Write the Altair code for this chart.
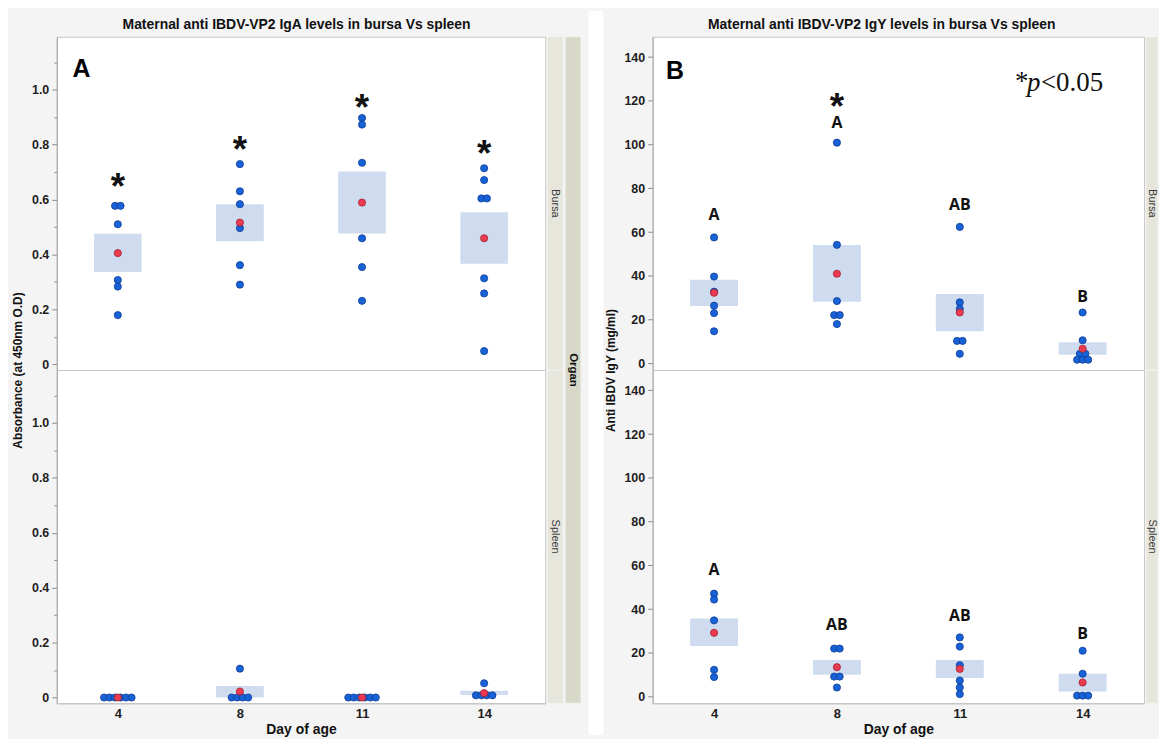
import altair as alt
import pandas as pd

# ---------------- data ----------------
days = ["4", "8", "11", "14"]

# Panel A : IgA absorbance, individual birds
iga_bursa = [
    [0.577, 0.577, 0.510, 0.307, 0.283, 0.179],
    [0.729, 0.630, 0.583, 0.496, 0.361, 0.290],
    [0.897, 0.873, 0.734, 0.459, 0.354, 0.231],
    [0.714, 0.671, 0.604, 0.604, 0.313, 0.258, 0.048],
]
iga_spleen = [
    [0.0, 0.0, 0.0, 0.0, 0.0, 0.0],
    [0.105, 0.0, 0.0, 0.0, 0.0],
    [0.0, 0.0, 0.0, 0.0, 0.0, 0.0],
    [0.052, 0.008, 0.008, 0.008, 0.008],
]
iga_bursa_mean = [0.405, 0.516, 0.589, 0.459]
iga_bursa_lo = [0.336, 0.448, 0.476, 0.366]
iga_bursa_hi = [0.475, 0.583, 0.702, 0.554]
iga_spleen_mean = [0.0, 0.022, 0.0, 0.016]
iga_spleen_lo = [0.0, 0.0, 0.0, 0.009]
iga_spleen_hi = [0.0, 0.042, 0.0, 0.025]
iga_star_y = [0.674, 0.808, 0.961, 0.795]

# Panel B : IgY (mg/ml), individual birds
igy_bursa = [
    [57.6, 39.7, 32.8, 26.4, 23.0, 14.7],
    [100.9, 54.2, 28.5, 22.1, 22.1, 18.0],
    [62.4, 27.9, 25.0, 10.3, 10.3, 4.4],
    [23.3, 10.6, 4.4, 4.4, 1.7, 1.7, 1.7],
]
igy_spleen = [
    [47.1, 44.4, 34.9, 12.3, 9.0],
    [22.0, 22.0, 9.2, 9.2, 4.2],
    [27.1, 22.9, 14.4, 7.4, 4.2, 1.2],
    [21.0, 10.5, 0.5, 0.5, 0.5],
]
igy_bursa_mean = [32.3, 41.0, 23.3, 6.7]
igy_bursa_lo = [26.2, 28.2, 14.7, 4.0]
igy_bursa_hi = [38.2, 54.1, 31.7, 9.7]
igy_spleen_mean = [29.2, 13.5, 12.7, 6.5]
igy_spleen_lo = [23.2, 10.0, 8.5, 2.4]
igy_spleen_hi = [35.8, 16.8, 16.8, 10.5]
igy_bursa_letters = ["A", "A", "AB", "B"]
igy_bursa_letter_y = [67.9, 109.7, 72.3, 30.5]
igy_spleen_letters = ["A", "AB", "AB", "B"]
igy_spleen_letter_y = [58.0, 32.7, 37.0, 28.5]
igy_star_day = [1]
igy_star_y = [121.0]

iga_ticks = [0.0, 0.1, 0.2, 0.3, 0.4, 0.5, 0.6, 0.7, 0.8, 0.9, 1.0, 1.1]
igy_ticks = [0, 20, 40, 60, 80, 100, 120, 140]

title_a = "Maternal anti IBDV-VP2 IgA levels in bursa Vs spleen"
title_b = "Maternal anti IBDV-VP2 IgY levels in bursa Vs spleen"

# ---------------- style ----------------
NARROW = "Liberation Sans Narrow, Arial Narrow, Liberation Sans, sans-serif"
SANS = "Liberation Sans, Arial, sans-serif"
SERIF = "Liberation Serif, Times New Roman, serif"
BLUE, BLUE_EDGE = "#1762d6", "#0c3b96"
RED, RED_EDGE = "#ec3a50", "#a01f30"
BOX = "#cfdcef"
BG = "#f4f4f4"
DODGE = 0.045
HALF_BOX = 0.195
W_A, W_B, H = 491, 494, 335


def points_frame(groups):
    rows = []
    for i, vals in enumerate(groups):
        counts = {}
        for v in vals:
            counts[v] = counts.get(v, 0) + 1
        seen = {}
        for v in vals:
            k = seen.get(v, 0)
            seen[v] = k + 1
            off = k - (counts[v] - 1) / 2
            rows.append({"pos": i + off * DODGE, "value": v})
    return pd.DataFrame(rows)


def summary_frame(means, lo, hi):
    return pd.DataFrame({"pos": list(range(len(days))), "mean": means, "lo": lo, "hi": hi})


xs = alt.Scale(domain=[-0.5, 3.5], nice=False, zero=False)
x_label_expr = "[" + ",".join("'%s'" % d for d in days) + "][datum.value]"
x_axis_bottom = alt.Axis(values=[0, 1, 2, 3], labelExpr=x_label_expr, title="Day of age",
                         ticks=False, domainColor="#c2c2c2", labelPadding=4, titlePadding=2,
                         labelFont=NARROW, labelFontSize=13, labelFontWeight="bold",
                         labelColor="#1e1e1e",
                         titleFont=NARROW, titleFontSize=14, titleFontWeight="bold",
                         titleColor="#111111")


def y_axis(ticks, label_expr, minor_test, title, title_y, title_pad):
    kw = dict(values=ticks, labelExpr=label_expr, domainColor="#a6a6a6", tickColor="#8c8c8c",
              labelFont=NARROW, labelFontSize=12.5, labelFontWeight="bold", labelColor="#1e1e1e",
              labelPadding=3)
    if minor_test:
        kw["tickSize"] = {"condition": {"test": minor_test, "value": 5}, "value": 3}
    else:
        kw["tickSize"] = 5
    if title:
        kw.update(title=title, titleY=title_y, titleFont=SANS, titleFontSize=12,
                  titleFontWeight="bold", titleColor="#111111", titlePadding=title_pad)
    else:
        kw["title"] = None
    return alt.Axis(**kw)


def row_chart(groups, means, lo, hi, ydomain, yaxis, xaxis, width, texts):
    ys = alt.Scale(domain=ydomain, nice=False, zero=False)
    pts = points_frame(groups)
    summ = summary_frame(means, lo, hi)
    box = alt.Chart(summ).transform_calculate(
        l="datum.pos - %f" % HALF_BOX, r="datum.pos + %f" % HALF_BOX
    ).mark_rect(color=BOX).encode(
        x=alt.X("l:Q", scale=xs, axis=xaxis), x2="r:Q",
        y=alt.Y("lo:Q", scale=ys, axis=yaxis), y2="hi:Q")
    dots = alt.Chart(pts).mark_point(shape="circle", filled=True, fill=BLUE, stroke=BLUE_EDGE,
                                     strokeWidth=0.8, size=52, opacity=1).encode(
        x=alt.X("pos:Q", scale=xs, axis=xaxis),
        y=alt.Y("value:Q", scale=ys, axis=yaxis))
    mean = alt.Chart(summ).mark_point(shape="circle", filled=True, fill=RED, stroke=RED_EDGE,
                                      strokeWidth=0.8, size=52, opacity=1).encode(
        x=alt.X("pos:Q", scale=xs, axis=xaxis),
        y=alt.Y("mean:Q", scale=ys, axis=yaxis))
    layers = [box, dots, mean]
    for df, mk in texts:
        layers.append(alt.Chart(df).mark_text(**mk).encode(
            x=alt.X("pos:Q", scale=xs, axis=xaxis),
            y=alt.Y("ty:Q", scale=ys, axis=yaxis),
            text="label:N"))
    return alt.layer(*layers).properties(width=width, height=H)


def strip(label, w, h, fill, bold):
    base = alt.Chart(pd.DataFrame({"label": [label]}))
    rect = base.mark_rect(fill=fill, stroke="#f2f2ee", strokeWidth=1).encode(
        x=alt.value(0), x2=alt.value(w), y=alt.value(0), y2=alt.value(h))
    txt = base.mark_text(angle=90, font=SANS, fontSize=11.5 if bold else 11,
                         fontWeight="bold" if bold else "normal",
                         color="#111111" if bold else "#3a3a3a", baseline="middle").encode(
        x=alt.value(w / 2), y=alt.value(h / 2), text="label:N")
    return alt.layer(rect, txt).properties(
        width=w, height=h, view=alt.ViewBackground(fill="transparent", stroke="transparent"))


def star_frame(pos, ys):
    return pd.DataFrame({"pos": pos, "ty": ys, "label": ["*"] * len(pos)})


star_mark = dict(font=SANS, fontSize=37, fontWeight="bold", color="#111111", baseline="middle", dy=9)
letter_mark = dict(font="Open Sans, Liberation Sans, sans-serif", fontSize=16, fontWeight="bold",
                   color="#111111", baseline="middle")
panel_mark = dict(font=SANS, fontSize=25, fontWeight="bold", color="#000000", baseline="middle")

# ---------------- panel A ----------------
minor_test = "round(datum.value*10) % 2 == 0"
iga_label_expr = ("round(datum.value*10) % 2 == 0 ? (datum.value == 0 ? '0' : "
                  "format(datum.value, '.1f')) : ''")
dom_a = [-0.021, 1.193]
topA = row_chart(
    iga_bursa, iga_bursa_mean, iga_bursa_lo, iga_bursa_hi, dom_a,
    y_axis(iga_ticks, iga_label_expr, minor_test, "Absorbance (at 450nm O.D)", H, 7),
    None, W_A,
    [(star_frame([0, 1, 2, 3], iga_star_y), star_mark),
     (pd.DataFrame({"pos": [-0.297], "ty": [1.075], "label": ["A"]}), panel_mark)])
botA = row_chart(
    iga_spleen, iga_spleen_mean, iga_spleen_lo, iga_spleen_hi, dom_a,
    y_axis(iga_ticks, iga_label_expr, minor_test, None, 0, 0),
    x_axis_bottom, W_A, [])

panelA = alt.hconcat(
    alt.vconcat(topA, botA, spacing=0, bounds="flush"),
    alt.vconcat(strip("Bursa", 16, H, "#e6e6dd", False), strip("Spleen", 16, H, "#e6e6dd", False),
                spacing=0, bounds="flush"),
    strip("Organ", 16, 2 * H, "#d8d8c8", True),
    spacing=0,
    title=alt.Title(title_a, font=NARROW, fontSize=14, fontWeight="bold", color="#111111",
                    offset=4, anchor="middle"),
)

# ---------------- panel B ----------------
dom_b = [-3.0, 149.3]
igy_label_expr = "format(datum.value, 'd')"
p_text_base = dict(font=SERIF, fontSize=27, color="#111111", baseline="middle", align="left")
topB = row_chart(
    igy_bursa, igy_bursa_mean, igy_bursa_lo, igy_bursa_hi, dom_b,
    y_axis(igy_ticks, igy_label_expr, None, "Anti IBDV IgY (mg/ml)", H, 6),
    None, W_B,
    [(star_frame(igy_star_day, igy_star_y), star_mark),
     (pd.DataFrame({"pos": [0, 1, 2, 3], "ty": igy_bursa_letter_y, "label": igy_bursa_letters}),
      letter_mark),
     (pd.DataFrame({"pos": [-0.318], "ty": [133.6], "label": ["B"]}), panel_mark),
     (pd.DataFrame({"pos": [2.45], "ty": [128.0], "label": ["*"]}), dict(p_text_base, dy=-1)),
     (pd.DataFrame({"pos": [2.45], "ty": [128.0], "label": ["p"]}),
      dict(p_text_base, dx=12, fontStyle="italic")),
     (pd.DataFrame({"pos": [2.45], "ty": [128.0], "label": ["<0.05"]}), dict(p_text_base, dx=26))])
botB = row_chart(
    igy_spleen, igy_spleen_mean, igy_spleen_lo, igy_spleen_hi, dom_b,
    y_axis(igy_ticks, igy_label_expr, None, None, 0, 0),
    x_axis_bottom, W_B,
    [(pd.DataFrame({"pos": [0, 1, 2, 3], "ty": igy_spleen_letter_y, "label": igy_spleen_letters}),
      letter_mark)])

panelB = alt.hconcat(
    alt.vconcat(topB, botB, spacing=0, bounds="flush"),
    alt.vconcat(strip("Bursa", 12, H, "#e6e6dd", False), strip("Spleen", 12, H, "#e6e6dd", False),
                spacing=0, bounds="flush"),
    spacing=0,
    title=alt.Title(title_b, font=NARROW, fontSize=14, fontWeight="bold", color="#111111",
                    offset=4, anchor="middle"),
)

# white gap between the two figure frames
spacer = alt.Chart(pd.DataFrame({"k": [0]})).mark_rect(fill="white").encode(
    x=alt.value(5.5), x2=alt.value(20.5), y=alt.value(-26), y2=alt.value(2 * H + 32)
).properties(width=20.5, height=2 * H,
             view=alt.ViewBackground(fill="transparent", stroke="transparent"))

chart = alt.hconcat(panelA, spacer, panelB, spacing=0).properties(
    background=BG,
    padding={"left": 3, "top": 0, "right": 0, "bottom": 0},
).configure_view(stroke="#c6c6c6", fill="white").configure_axis(grid=False)

chart.save("out.html", embed_options={"renderer": "svg", "actions": False})
